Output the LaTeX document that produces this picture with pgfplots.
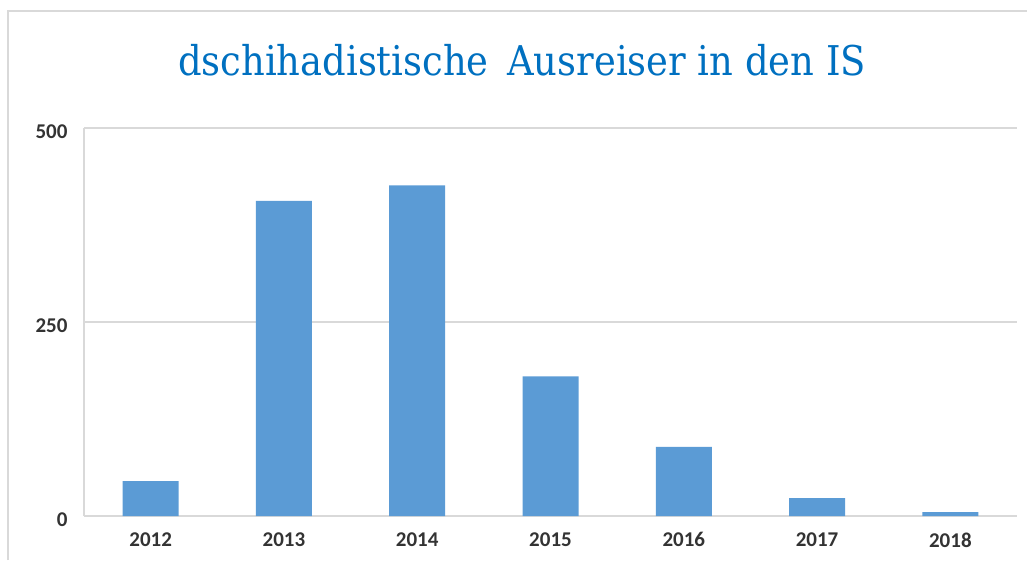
\documentclass[border=0pt]{standalone}
\usepackage{fontspec}
\setmainfont{Carlito}
\newfontfamily\titlefont{DejaVu Serif Condensed}
\usepackage{pgfplots}
\pgfplotsset{compat=1.18}
\definecolor{barblue}{HTML}{5B9BD5}
\definecolor{titleblue}{HTML}{0070C0}
\definecolor{gridgray}{HTML}{D9D9D9}
\definecolor{labelgray}{HTML}{333333}
\begin{document}
\begin{tikzpicture}[x=1pt,y=1pt]
\useasboundingbox (0,0) rectangle (1027,560);
\draw[gridgray, line width=1.5pt] (8,0) -- (8,549) -- (1027,549);
\node[titleblue, font=\titlefont\fontsize{41}{46}\selectfont] at (522,500) {dschihadistische\, Ausreiser in den IS};
\begin{axis}[
  at={(84pt,44pt)}, anchor=south west,
  scale only axis, width=933pt, height=388pt,
  ybar, bar width=56pt,
  xmin=-0.5, xmax=6.5, ymin=0, ymax=500,
  xtick=data, xticklabels={2012,2013,2014,2015,2016,2017,2018},
  ytick={0,250,500},
  axis x line=bottom, axis y line=left,
  axis line style={gridgray, line width=1.5pt, -},
  ymajorgrids, grid style={gridgray, line width=1.5pt},
  major tick length=0pt,
  tick label style={font=\bfseries\fontsize{21}{23}\selectfont, text=labelgray},
  /pgf/number format/assume math mode=true,
  yticklabel style={xshift=-13pt, yshift=-4pt},
  xticklabel style={yshift=-13pt},
]
\addplot[fill=barblue, draw=none] coordinates {(0,45) (1,406) (2,426) (3,180) (4,89) (5,23) (6,5)};
\end{axis}
\end{tikzpicture}
\end{document}
